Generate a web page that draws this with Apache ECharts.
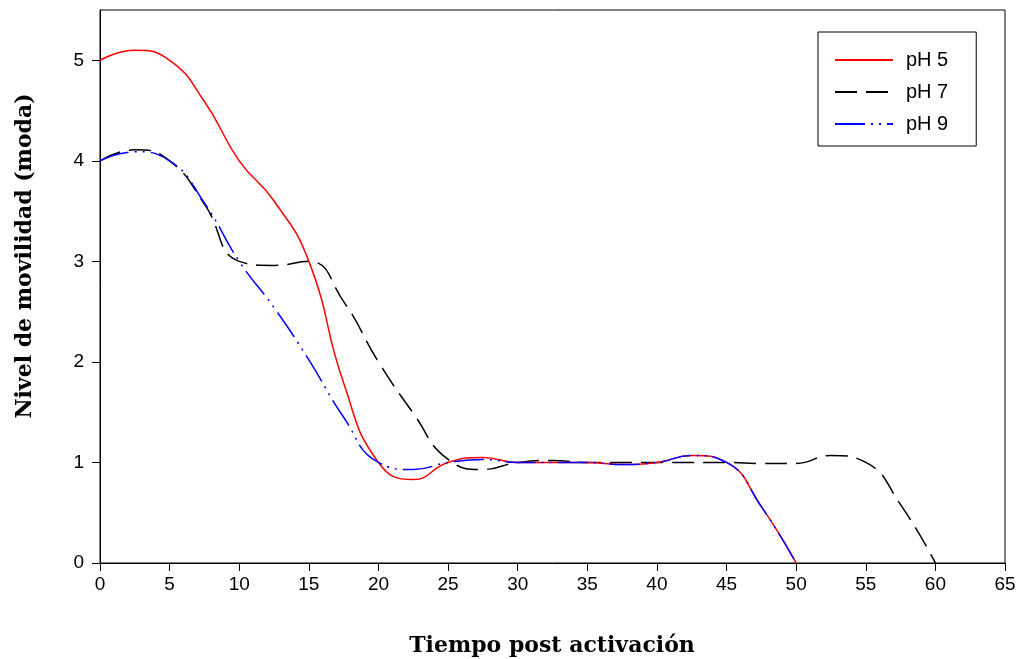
<!DOCTYPE html>
<html><head><meta charset="utf-8">
<script src="https://cdn.jsdelivr.net/npm/echarts@6/dist/echarts.min.js"></script>
<style>html,body{margin:0;padding:0;background:#fff}#c{width:1020px;height:659px}</style>
</head><body><div id="c"></div>
<script>
// time grid (read every 2.5 units from the picture)
const xValues = [0,2.5,5,7.5,10,12.5,15,17.5,20,22.5,25,27.5,30,32.5,35,37.5,40,42.5,45,47.5,50,52.5,55,57.5,60];
const ph5 = [5.0,5.1,5.0,4.59,4.0,3.6,3.0,1.79,1.0,0.83,1.0,1.05,1.0,1.0,1.0,0.98,1.0,1.07,1.0,0.56,0];
const ph7 = [4.0,4.11,4.0,3.57,3.0,2.96,3.0,2.6,2.0,1.49,1.03,0.93,1.0,1.02,1.0,1.0,1.0,1.0,1.0,0.99,0.99,1.07,1.0,0.58,0];
const ph9 = [4.0,4.09,4.0,3.58,3.0,2.54,2.02,1.45,1.0,0.93,1.0,1.03,1.0,1.0,1.0,0.98,1.0,1.07,1.0,0.56,0];
const xTicks = [0,5,10,15,20,25,30,35,40,45,50,55,60,65];
const yTicks = [0,1,2,3,4,5];
const seriesNames = ['pH 5','pH 7','pH 9'];
const xTitle = 'Tiempo post activación';
const yTitle = 'Nivel de movilidad (moda)';

const pairs = arr => arr.map((v,i)=>[xValues[i], v]);
const titleFont = 'bold 22px "DejaVu Serif"';
const chart = echarts.init(document.getElementById('c'));
chart.setOption({
  animation:false,
  backgroundColor:'#fff',
  grid:{left:100,right:15,top:10,bottom:96,show:true,borderColor:'#000',borderWidth:1},
  xAxis:{type:'value',min:0,max:65,interval:5,
    axisLine:{lineStyle:{color:'#000'}},
    axisTick:{inside:false,length:8,lineStyle:{color:'#000'},customValues:xTicks},
    axisLabel:{fontFamily:'Liberation Sans',fontSize:19,color:'#000',margin:12,customValues:xTicks},
    splitLine:{show:false}},
  yAxis:{type:'value',min:0,max:5.5,interval:1,
    axisLine:{lineStyle:{color:'#000'}},
    axisTick:{inside:false,length:8,lineStyle:{color:'#000'},customValues:yTicks},
    axisLabel:{fontFamily:'Liberation Sans',fontSize:19,color:'#000',margin:16,customValues:yTicks},
    splitLine:{show:false}},
  graphic:[
    {type:'text',x:552,y:646,style:{text:xTitle,font:titleFont,fill:'#000',align:'center',verticalAlign:'middle'}},
    {type:'text',x:25,y:256,rotation:Math.PI/2,style:{text:yTitle,font:titleFont,fill:'#000',align:'center',verticalAlign:'middle'}}
  ],
  legend:{orient:'vertical',left:818,top:32,
    padding:[18,28,12,16],itemGap:12,itemWidth:58,itemHeight:14,
    borderColor:'#000',borderWidth:1,backgroundColor:'#fff',
    itemStyle:{opacity:0},
    textStyle:{fontFamily:'Liberation Sans',fontSize:20,color:'#000',padding:[0,0,0,8]},
    data:seriesNames},
  series:[
    {name:seriesNames[0],type:'line',data:pairs(ph5),smooth:0.5,symbol:'none',
      lineStyle:{color:'#ff0000',width:1.5},itemStyle:{color:'#ff0000'},z:3},
    {name:seriesNames[1],type:'line',data:pairs(ph7),smooth:0.5,symbol:'none',
      lineStyle:{color:'#000',width:1.5,type:[22,9]},itemStyle:{color:'#000'},z:2},
    {name:seriesNames[2],type:'line',data:pairs(ph9),smooth:0.5,symbol:'none',
      lineStyle:{color:'#0000ff',width:1.5,type:[30,6,2,6,2,6]},itemStyle:{color:'#0000ff'},z:4}
  ]
});
</script></body></html>
